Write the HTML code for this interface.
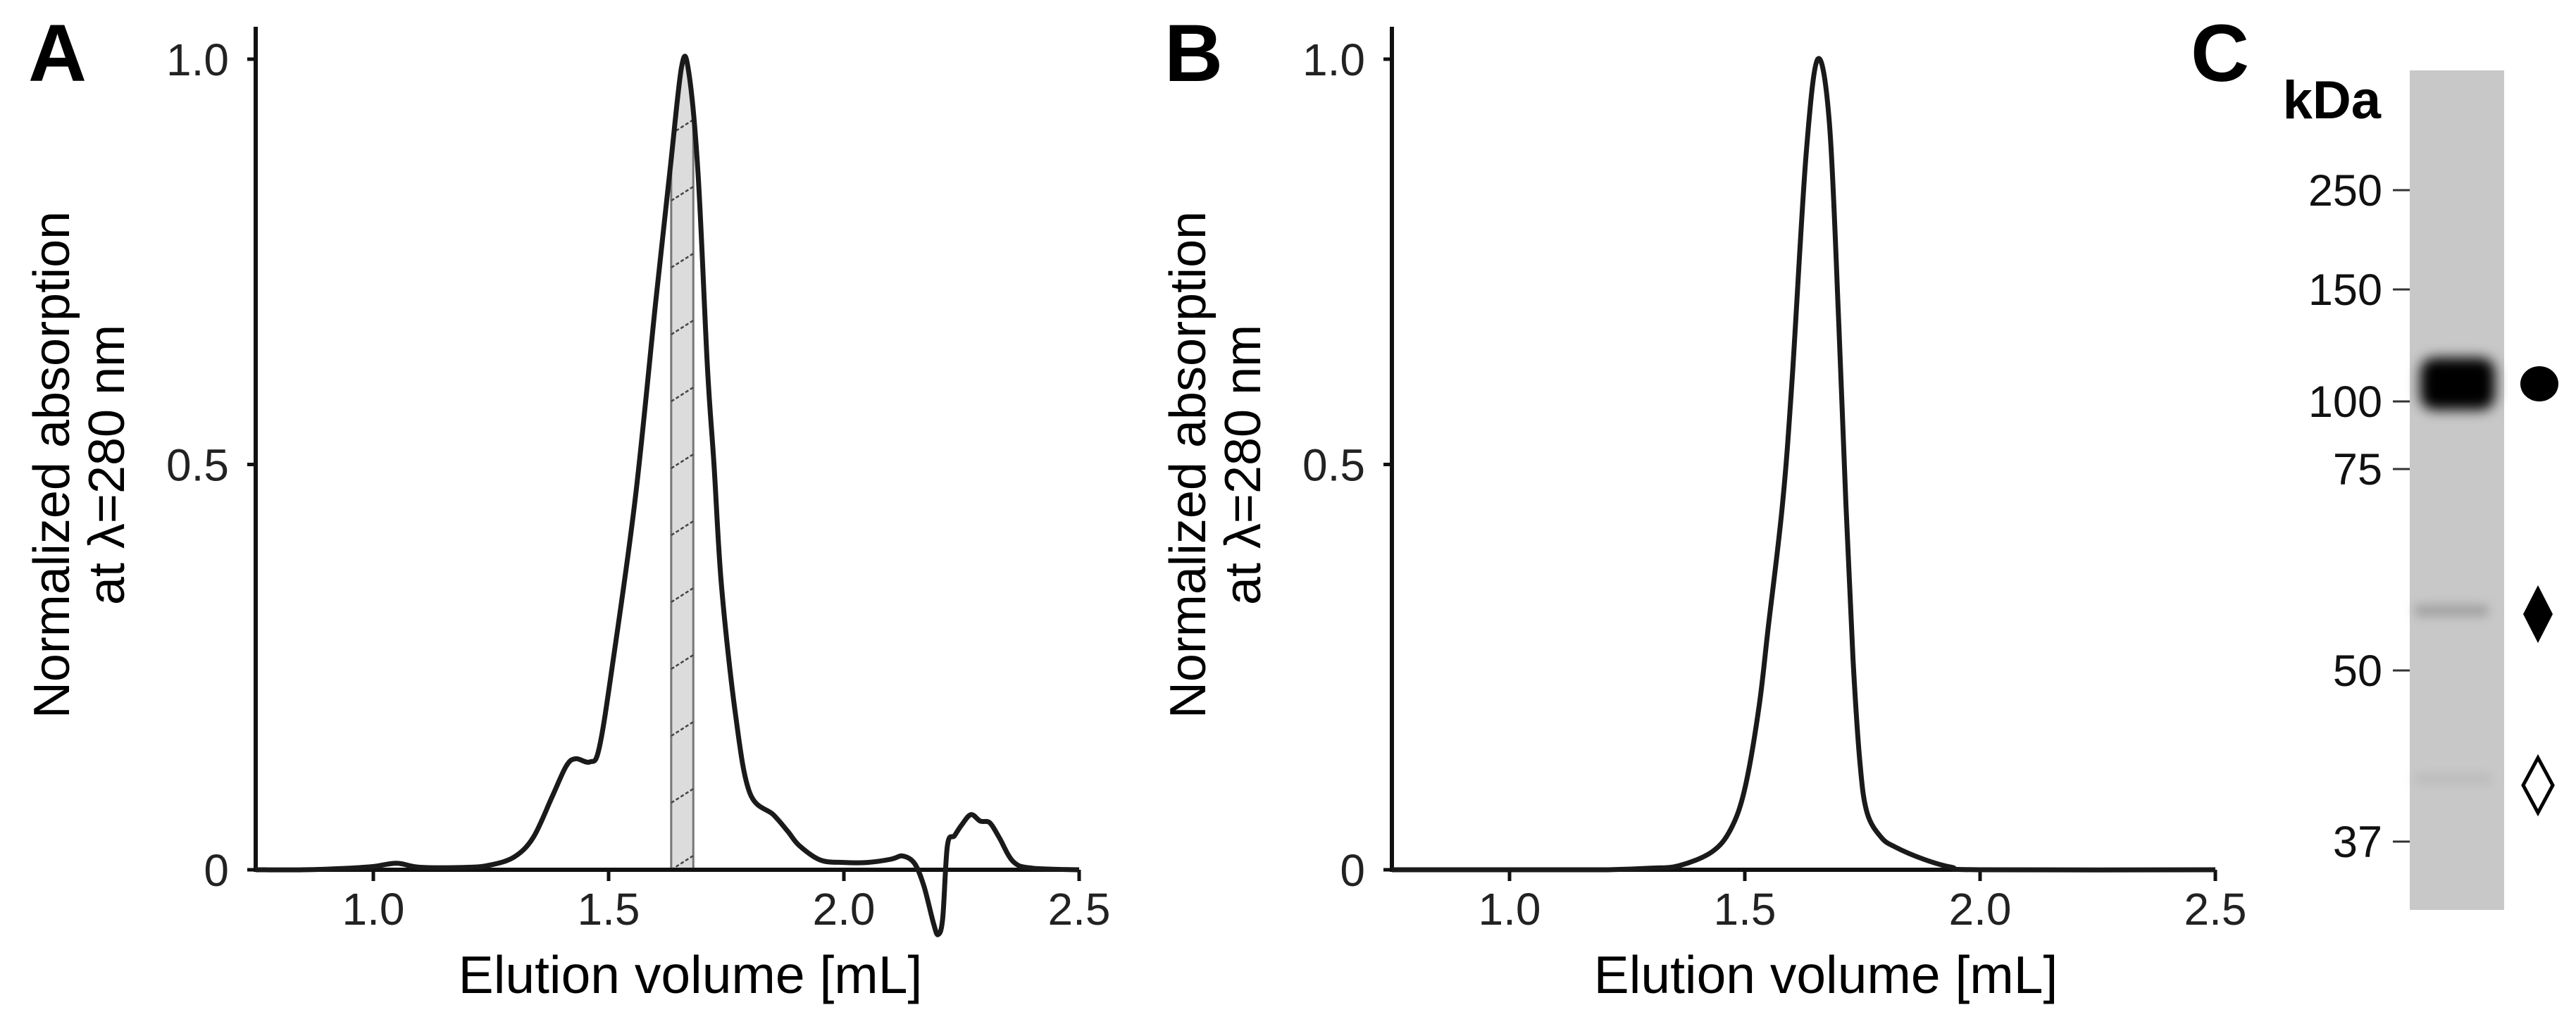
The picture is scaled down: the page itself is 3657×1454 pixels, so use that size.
<!DOCTYPE html>
<html><head><meta charset="utf-8">
<style>
html,body{margin:0;padding:0;background:#fff;}
svg{display:block;font-family:"Liberation Sans",Arial,sans-serif;}
</style></head>
<body>
<svg id="fig" width="3657" height="1454" viewBox="0 0 3657 1454" xmlns="http://www.w3.org/2000/svg">
<defs>
  <filter id="blur8" x="-30%" y="-60%" width="160%" height="220%"><feGaussianBlur stdDeviation="9"/></filter>
  <filter id="blur5" x="-30%" y="-100%" width="160%" height="300%"><feGaussianBlur stdDeviation="7"/></filter>
  <clipPath id="areaClipA"><path id="areaClipPath" d=""/></clipPath>
</defs>
<g id="panelA"></g>
<g id="panelB"></g>
<g id="panelC">
  <text x="3110" y="115" font-size="115" font-weight="bold">C</text>
  <text x="3380" y="168" font-size="76" font-weight="bold" text-anchor="end">kDa</text>
  <rect x="3421" y="100" width="134" height="1192" fill="#c8c8c8"/>
  <rect x="3436" y="508" width="106" height="74" rx="20" fill="#050505" filter="url(#blur8)"/>
  <rect x="3428" y="858" width="105" height="18" rx="6" fill="#a4a4a4" filter="url(#blur5)"/>
  <rect x="3428" y="1098" width="110" height="16" rx="6" fill="#bcbcbc" filter="url(#blur5)"/>
  <g id="markers"></g>
  <ellipse cx="3605" cy="545" rx="27" ry="25" fill="#000"/>
  <polygon points="3603,831 3624,872 3603,913 3582,872" fill="#000"/>
  <polygon points="3603,1076 3624,1115 3603,1154 3582,1115" fill="none" stroke="#000" stroke-width="5"/>
</g>
</svg>
<script>
// ---- Panel A data ----
const volA = [0.75,0.85,0.95,1.0,1.05,1.1,1.2,1.25,1.3,1.34,1.38,1.41,1.43,1.46,1.48,1.51,1.557,1.6,1.63,1.655,1.67,1.69,1.71,1.724,1.74,1.77,1.8,1.85,1.88,1.905,1.95,2.0,2.05,2.1,2.125,2.15,2.17,2.19,2.2,2.21,2.22,2.235,2.25,2.27,2.29,2.31,2.33,2.36,2.4,2.5];
const absA = [0.0,0.0,0.002,0.004,0.008,0.003,0.003,0.006,0.016,0.04,0.09,0.128,0.137,0.133,0.15,0.26,0.46,0.7,0.86,0.99,0.985,0.86,0.62,0.5,0.35,0.19,0.095,0.068,0.048,0.03,0.012,0.009,0.009,0.013,0.017,0.008,-0.02,-0.065,-0.08,-0.06,0.03,0.042,0.055,0.068,0.06,0.058,0.04,0.01,0.002,0.0];
const bandA = [1.633,1.68];
// ---- Panel B data ----
const volB = [0.75,1.0,1.2,1.3,1.36,1.43,1.47,1.5,1.53,1.55,1.58,1.6,1.63,1.655,1.68,1.7,1.715,1.73,1.745,1.76,1.79,1.82,1.88,1.94,2.0,2.5];
const absB = [0.0,0.0,0.0,0.002,0.005,0.022,0.05,0.1,0.2,0.3,0.45,0.6,0.88,1.0,0.92,0.67,0.45,0.26,0.13,0.07,0.04,0.028,0.013,0.003,0.0,0.0];
const xTicks = [1.0,1.5,2.0,2.5];
const xTickLabels = ["1.0","1.5","2.0","2.5"];
const yTicks = [0,0.5,1.0];
const yTickLabels = ["0","0.5","1.0"];
// ---- Panel C data ----
const kdaLabels = ["250","150","100","75","50","37"];
const kdaY = [270,411,570,666,952,1195];

const NS="http://www.w3.org/2000/svg";
function mk(tag, attrs, parent){const e=document.createElementNS(NS,tag);for(const k in attrs)e.setAttribute(k,attrs[k]);parent.appendChild(e);return e;}
function smooth(pts){
  let d="M"+pts[0][0].toFixed(1)+","+pts[0][1].toFixed(1);
  for(let i=0;i<pts.length-1;i++){
    const p0=pts[Math.max(0,i-1)],p1=pts[i],p2=pts[i+1],p3=pts[Math.min(pts.length-1,i+2)];
    const c1=[p1[0]+(p2[0]-p0[0])/6,p1[1]+(p2[1]-p0[1])/6];
    const c2=[p2[0]-(p3[0]-p1[0])/6,p2[1]-(p3[1]-p1[1])/6];
    d+=" C"+c1[0].toFixed(1)+","+c1[1].toFixed(1)+" "+c2[0].toFixed(1)+","+c2[1].toFixed(1)+" "+p2[0].toFixed(1)+","+p2[1].toFixed(1);
  }
  return d;
}
function panel(g, x0, letter, titleCx, vols, vals, band){
  const xs = v => x0 + (v-0.75)*668;
  const ys = a => 1235 - a*1151;
  const xEnd = xs(2.5);
  let t=mk("text",{x:x0-323,y:115,"font-size":115,"font-weight":"bold"},g);
  t.textContent=letter;
  
  
  const yt=mk("g",{transform:"translate("+(x0-265)+",660) rotate(-90)"},g);
  
  
  let l1=mk("text",{x:0,y:0,"font-size":72,"text-anchor":"middle"},yt); l1.textContent="Normalized absorption";
  let l2=mk("text",{x:0,y:78,"font-size":72,"text-anchor":"middle"},yt); l2.textContent="at λ=280 nm";
  const pts = vols.map((v,i)=>[xs(v),ys(vals[i])]);
  const d = smooth(pts);
  if(band){
    const cp=document.getElementById('areaClipPath');
    cp.setAttribute('d', d+" L"+xs(vols[vols.length-1])+","+ys(0)+" L"+xs(vols[0])+","+ys(0)+" Z");
    const bg=mk("g",{"clip-path":"url(#areaClipA)"},g);
    
    
    const bx0=xs(band[0]), bx1=xs(band[1]);
    mk("rect",{x:bx0,y:ys(1.05),width:bx1-bx0,height:ys(0)-ys(1.05),fill:"#dcdcdc",stroke:"#777","stroke-width":3},bg);
    for(let yy=ys(0)-10; yy>ys(1.05); yy-=95){
      mk("line",{x1:bx0,y1:yy+10,x2:bx1,y2:yy-10,stroke:"#444","stroke-width":2.5,"stroke-dasharray":"5 3"},bg);
    }
  }
  const ax=mk("path",{d:"M"+x0+",38 L"+x0+","+ys(0)+" L"+xEnd+","+ys(0),fill:"none",stroke:"#111","stroke-width":6},g);
  
  
  xTicks.forEach((v,i)=>{
    const tk=mk("line",{x1:xs(v),y1:ys(0),x2:xs(v),y2:ys(0)+16,stroke:"#111","stroke-width":5},g);
    
    
    const tl=mk("text",{x:xs(v),y:1313,"font-size":64,"text-anchor":"middle",fill:"#222"},g);
    tl.textContent=xTickLabels[i];
    
    
  });
  yTicks.forEach((v,i)=>{
    const tk=mk("line",{x1:x0-12,y1:ys(v),x2:x0,y2:ys(v),stroke:"#111","stroke-width":5},g);
    
    
    const tl=mk("text",{x:x0-38,y:ys(v)+23,"font-size":64,"text-anchor":"end",fill:"#222"},g);
    tl.textContent=yTickLabels[i];
    
    
  });
  const xt=mk("text",{x:titleCx,y:1410,"font-size":75,"text-anchor":"middle"},g);
  xt.textContent="Elution volume [mL]";
  
  
  const c=mk("path",{d:d,fill:"none",stroke:"#1a1a1a","stroke-width":7,"stroke-linejoin":"round"},g);
  
  
}
panel(document.getElementById('panelA'),363,"A",980,volA,absA,bandA);
panel(document.getElementById('panelB'),1976,"B",2592,volB,absB,null);
const mg=document.getElementById('markers');
kdaLabels.forEach((lab,i)=>{
  const tk=mk("line",{x1:3397,y1:kdaY[i],x2:3421,y2:kdaY[i],stroke:"#333","stroke-width":3},mg);
  
  
  const tl=mk("text",{x:3382,y:kdaY[i]+22,"font-size":63,"text-anchor":"end",fill:"#111"},mg);
  tl.textContent=lab;
  
  
});
</script>
</body></html>
